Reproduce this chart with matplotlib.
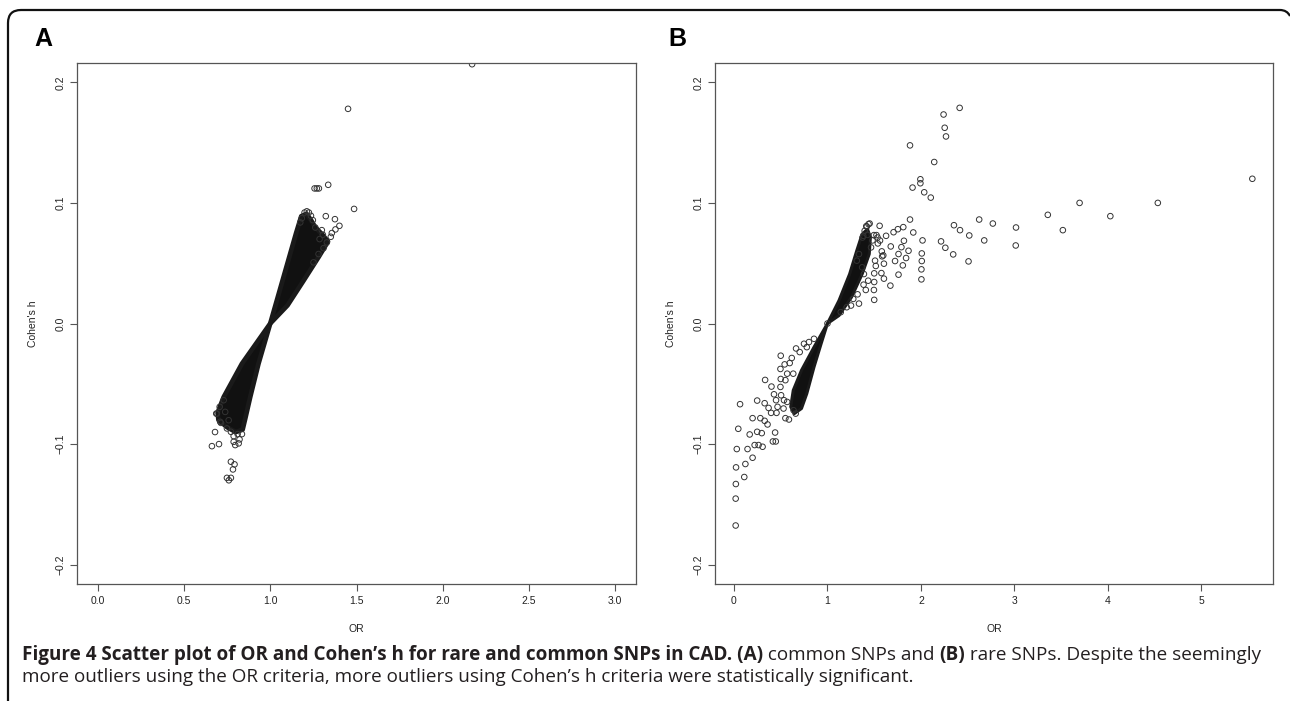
import matplotlib
matplotlib.use("Agg")
import matplotlib.pyplot as plt
from matplotlib.path import Path
from matplotlib.patches import PathPatch

W, H = 1290, 701

# ---- panel A: common SNPs ----
# dense fan of thousands of points, drawn as outline (OR, h)
a_fan_up_or = [1.0, 1.09, 1.15, 1.18, 1.21, 1.235, 1.26, 1.30, 1.335, 1.28, 1.193, 1.10, 1.0]
a_fan_up_h = [0.0, 0.045, 0.075, 0.089, 0.091, 0.086, 0.080, 0.074, 0.068, 0.055, 0.0355, 0.015, 0.0]
a_fan_lo_or = [1.0, 0.932, 0.884, 0.855, 0.84, 0.80, 0.75, 0.70, 0.695, 0.73, 0.836, 1.0]
a_fan_lo_h = [0.0, -0.0333, -0.061, -0.079, -0.088, -0.090, -0.086, -0.080, -0.074, -0.061, -0.0333, 0.0]

# individual points at the edge of the fan and outliers
a_or = [2.17, 1.451, 1.257, 1.270, 1.282, 1.336, 1.486, 1.322, 1.375, 1.401, 1.378, 1.357,
        1.212, 1.224, 1.199, 1.236, 1.247, 1.261, 1.299, 1.305, 1.328, 1.351, 1.286, 1.309,
        1.280, 1.251, 1.183, 1.174,
        0.680, 0.662, 0.703, 0.772, 0.793, 0.784, 0.772, 0.749, 0.797, 0.817, 0.691, 0.710,
        0.687, 0.707, 0.730, 0.714, 0.749, 0.772, 0.788, 0.811, 0.836, 0.822, 0.788, 0.759,
        0.739, 0.760]
a_h = [0.215, 0.178, 0.112, 0.112, 0.112, 0.115, 0.095, 0.089, 0.0865, 0.081, 0.078, 0.075,
       0.093, 0.092, 0.092, 0.0893, 0.0857, 0.0796, 0.0774, 0.0736, 0.0672, 0.0719, 0.070, 0.0625,
       0.0576, 0.0507, 0.0873, 0.0838,
       -0.090, -0.1017, -0.100, -0.1146, -0.1168, -0.121, -0.128, -0.128, -0.1008, -0.0994, -0.0747, -0.0815,
       -0.0747, -0.0691, -0.0636, -0.0824, -0.087, -0.0898, -0.0934, -0.0917, -0.0917, -0.0961, -0.0981, -0.0802,
       -0.0733, -0.130]

# ---- panel B: rare SNPs ----
b_fan_up_or = [1.0, 1.123, 1.237, 1.313, 1.371, 1.429, 1.459, 1.447, 1.371, 1.257, 1.123, 1.0]
b_fan_up_h = [0.0, 0.019, 0.041, 0.0603, 0.0741, 0.0782, 0.0713, 0.0576, 0.041, 0.0218, 0.0066, 0.0]
b_fan_lo_or = [1.0, 0.856, 0.722, 0.634, 0.607, 0.645, 0.722, 0.779, 0.856, 0.932, 1.0]
b_fan_lo_h = [0.0, -0.0196, -0.0388, -0.0554, -0.0691, -0.0747, -0.0705, -0.0581, -0.0361, -0.0168, 0.0]

b_or = [2.414, 2.242, 2.254, 2.268, 1.883, 2.142, 1.994, 1.994, 1.910, 2.035, 2.105, 5.545,
        3.697, 4.534, 3.357, 4.026, 3.518, 2.623, 2.769, 3.017, 3.014, 2.353, 2.418, 2.517,
        2.677, 2.215, 2.261, 2.345, 2.509, 1.883, 1.918, 2.017, 2.009, 2.009, 2.005, 2.005,
        1.811, 1.753, 1.707, 1.818, 1.791, 1.760, 1.841, 1.806, 1.760, 1.867, 1.673, 1.627,
        1.558, 1.677, 1.723, 1.604, 1.500, 1.337, 1.252, 1.497, 1.500, 1.585, 1.604, 1.562,
        1.439, 1.415, 1.383, 1.524,
        1.421, 1.451, 1.398, 1.375, 1.429, 1.497, 1.536, 1.482, 1.539, 1.466, 1.581, 1.597,
        1.509, 1.517, 1.500, 1.577, 1.436, 1.386, 1.410, 1.322, 1.276, 1.206, 1.142, 1.337,
        1.314, 1.371, 1.390, 1.0,
        0.065, 0.046, 0.030, 0.022, 0.020, 0.018, 0.018, 0.145, 0.122, 0.110, 0.199, 0.168,
        0.221, 0.263, 0.306, 0.248, 0.297, 0.199, 0.282, 0.328, 0.359, 0.248, 0.328, 0.333,
        0.401, 0.370, 0.397, 0.440, 0.416, 0.447, 0.428, 0.455, 0.500, 0.497, 0.500, 0.497,
        0.504, 0.450, 0.466, 0.550, 0.588, 0.664, 0.596, 0.569, 0.749, 0.802, 0.856,
        0.569, 0.637, 0.660, 0.530, 0.618, 0.542, 0.703, 0.779, 0.634, 0.550, 0.535]
b_h = [0.1788, 0.1733, 0.1623, 0.1551, 0.1477, 0.1339, 0.1196, 0.1163, 0.1127, 0.1088, 0.1044, 0.120,
       0.100, 0.100, 0.0901, 0.089, 0.0774, 0.0862, 0.0829, 0.0796, 0.0647, 0.0815, 0.0774, 0.073,
       0.0689, 0.0681, 0.0628, 0.0573, 0.0515, 0.0862, 0.0755, 0.0689, 0.0581, 0.0518, 0.0449, 0.0366,
       0.0799, 0.0782, 0.0757, 0.0686, 0.0633, 0.0576, 0.0543, 0.0482, 0.0405, 0.0603, 0.0314, 0.0727,
       0.0810, 0.0639, 0.0518, 0.0372, 0.0196, 0.0165, 0.0149, 0.0278, 0.0344, 0.0557, 0.0496, 0.0688,
       0.0824, 0.0807, 0.0727, 0.0733,
       0.0804, 0.0829, 0.0769, 0.0713, 0.0735, 0.0733, 0.0713, 0.0689, 0.0664, 0.0631, 0.0598, 0.0565,
       0.0521, 0.0477, 0.0416, 0.0418, 0.0355, 0.0322, 0.0278, 0.0242, 0.0204, 0.0135, 0.0094, 0.0576,
       0.0521, 0.0466, 0.0410, 0.0,
       -0.0669, -0.0873, -0.1041, -0.1193, -0.1331, -0.1452, -0.1675, -0.1041, -0.1165, -0.1273, -0.1113, -0.092,
       -0.1008, -0.1008, -0.1022, -0.0898, -0.0909, -0.0785, -0.0785, -0.0807, -0.0837, -0.0639, -0.0661, -0.0468,
       -0.0523, -0.070, -0.0741, -0.0904, -0.0978, -0.0978, -0.0587, -0.0741, -0.0267, -0.0377, -0.046, -0.0526,
       -0.0595, -0.0636, -0.0691, -0.0785, -0.0796, -0.0207, -0.0328, -0.0416, -0.0168, -0.0154, -0.0127,
       -0.065, -0.0719, -0.0747, -0.0705, -0.0286, -0.0339, -0.0237, -0.0196, -0.0416, -0.047, -0.0636]

a_xticks = [0.0, 0.5, 1.0, 1.5, 2.0, 2.5, 3.0]
a_xlabels = ["0.0", "0.5", "1.0", "1.5", "2.0", "2.5", "3.0"]
b_xticks = [0, 1, 2, 3, 4, 5]
b_xlabels = ["0", "1", "2", "3", "4", "5"]
yticks = [-0.2, -0.1, 0.0, 0.1, 0.2]
ylabels = ["\u22120.2", "\u22120.1", "0.0", "0.1", "0.2"]

cap_line1 = [("Figure 4 Scatter plot of OR and Cohen\u2019s h for rare and common SNPs in CAD. (A)", "bold"),
             (" common SNPs and ", "normal"),
             ("(B)", "bold"),
             (" rare SNPs. Despite the seemingly", "normal")]
cap_line2 = [("more outliers using the OR criteria, more outliers using Cohen\u2019s h criteria were statistically significant.", "normal")]


def r_lim(lo, hi):
    ext = 0.04 * (hi - lo)
    return lo - ext, hi + ext


fig = plt.figure(figsize=(W / 100, H / 100), dpi=100)
plt.rcParams["font.family"] = ["Liberation Sans", "DejaVu Sans"]

axA = fig.add_axes([77 / W, 1 - 584 / H, (636 - 77) / W, (584 - 63) / H])
axB = fig.add_axes([715 / W, 1 - 584 / H, (1273 - 715) / W, (584 - 63) / H])

# (axes, fan outlines, points, x range, ticks, edge width of the dense fan)
panels = [
    (axA, a_fan_up_or, a_fan_up_h, a_fan_lo_or, a_fan_lo_h, a_or, a_h, r_lim(0, 3), a_xticks, a_xlabels, 3.4),
    (axB, b_fan_up_or, b_fan_up_h, b_fan_lo_or, b_fan_lo_h, b_or, b_h,
     r_lim(min(b_or), max(b_or)), b_xticks, b_xlabels, 2.2),
]

for ax, fuo, fuh, flo, flh, xs, ys, xlim, xt, xl, ew in panels:
    ax.fill(fuo, fuh, color="#111111", lw=ew, ec="#1a1a1a", joinstyle="round")
    ax.fill(flo, flh, color="#111111", lw=ew, ec="#1a1a1a", joinstyle="round")
    ax.scatter(xs, ys, s=16, facecolors="none", edgecolors="#333333", linewidths=0.7)
    ax.set_xlim(*xlim)
    ax.set_ylim(*r_lim(-0.2, 0.2))
    ax.set_xticks(xt)
    ax.set_xticklabels(xl)
    ax.set_yticks(yticks)
    ax.set_yticklabels(ylabels, rotation=90, va="center")
    ax.tick_params(direction="out", length=5, width=0.8, color="#555555",
                   labelsize=7.5, labelcolor="#222222", pad=4)
    ax.tick_params(axis="y", pad=3)
    for sp in ax.spines.values():
        sp.set_color("#555555")
        sp.set_linewidth(0.9)
    ax.set_xlabel("OR", fontsize=7.5, color="#222222")
    ax.set_ylabel("Cohen's h", fontsize=7.5, color="#222222")
    ax.xaxis.set_label_coords(0.5, -0.077)
    ax.yaxis.set_label_coords(-0.069, 0.5)

fig.text(34 / W, 1 - 46 / H, "A", fontsize=18, fontweight="bold", ha="left", va="baseline")
fig.text(668 / W, 1 - 46 / H, "B", fontsize=18, fontweight="bold", ha="left", va="baseline")

# outer frame with rounded corners
r = 13
verts = [(8, H), (8, 10 + r), (8, 10), (8 + r, 10), (1290 - 10, 10), (1290 - 3, 10), (1290, 16)]
codes = [Path.MOVETO, Path.LINETO, Path.CURVE3, Path.CURVE3, Path.LINETO, Path.CURVE3, Path.CURVE3]
verts = [(x / W, 1 - y / H) for x, y in verts]
fig.add_artist(PathPatch(Path(verts, codes), transform=fig.transFigure, fill=False,
                         lw=1.6, ec="#111111"))

# caption, fitted to the line width of the original
cap_font = ["Open Sans", "DejaVu Sans"]
renderer = fig.canvas.get_renderer()


def put_runs(x, y, runs, size):
    cur = x
    made = []
    for s, w in runs:
        t = fig.text(cur / W, 1 - y / H, s, fontsize=size, fontweight=w, family=cap_font,
                     ha="left", va="baseline", color="#231f20")
        cur += t.get_window_extent(renderer).width
        made.append(t)
    return cur, made


end, made = put_runs(22, 660, cap_line1, 11)
size = 11 * (1262 - 22) / (end - 22)
for t in made:
    t.remove()
put_runs(22, 660, cap_line1, size)
put_runs(22, 682, cap_line2, size)

fig.savefig("out.png", dpi=100)
